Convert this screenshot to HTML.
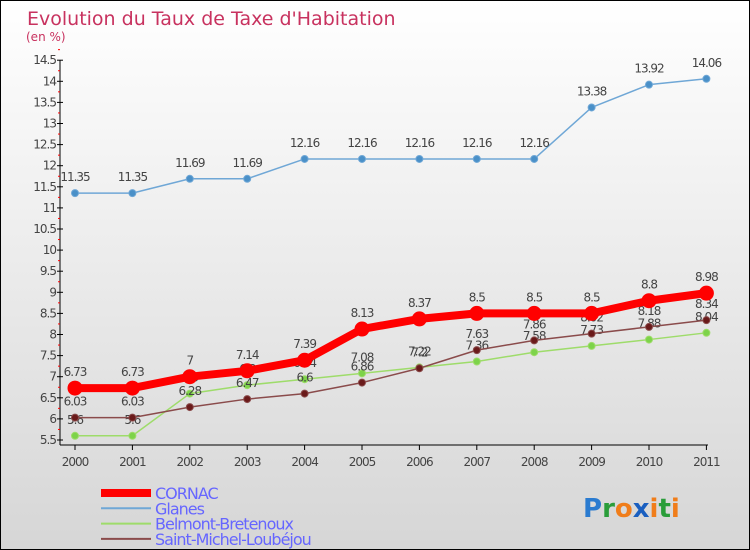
<!DOCTYPE html>
<html><head><meta charset="utf-8"><style>
body{margin:0}
#wrap{width:748px;height:548px;border:1px solid #000;background:linear-gradient(#fff,#d6d6d6);position:relative;overflow:hidden;font-family:"DejaVu Sans","Liberation Sans",sans-serif}
</style></head><body>
<div id="wrap">
<svg id="svg" width="748" height="548"></svg>
</div>
<script>
const years=["2000","2001","2002","2003","2004","2005","2006","2007","2008","2009","2010","2011"];
const cornac=[6.73,6.73,7,7.14,7.39,8.13,8.37,8.5,8.5,8.5,8.8,8.98];
const glanes=[11.35,11.35,11.69,11.69,12.16,12.16,12.16,12.16,12.16,13.38,13.92,14.06];
const belmont=[5.6,5.6,6.6,6.8,6.94,7.08,7.22,7.36,7.58,7.73,7.88,8.04];
const stmichel=[6.03,6.03,6.28,6.47,6.6,6.86,7.2,7.63,7.86,8.02,8.18,8.34];
const yTicks=[5.5,6,6.5,7,7.5,8,8.5,9,9.5,10,10.5,11,11.5,12,12.5,13,13.5,14,14.5];
const NS="http://www.w3.org/2000/svg";
const svg=document.getElementById('svg');
const X=i=>74+i*57.4, Y=v=>439-(v-5.5)*42.2;
function mk(t,a,p){const e=document.createElementNS(NS,t);for(const k in a)e.setAttribute(k,a[k]);(p||svg).appendChild(e);return e;}
let t=mk('text',{x:26,y:24,fill:'#c8325f','font-size':19});t.textContent="Evolution du Taux de Taxe d'Habitation";

t=mk('text',{x:25,y:40,fill:'#c8325f','font-size':12});t.textContent="(en %)";

let ax=mk('line',{x1:59,y1:59,x2:59,y2:444,stroke:'#000'});
ax=mk('line',{x1:59,y1:444,x2:707,y2:444,stroke:'#000'});
yTicks.forEach(v=>{mk('line',{x1:56,y1:Y(v),x2:62,y2:Y(v),stroke:'#000'});
 mk('line',{x1:57,y1:Y(v+0.25),x2:59,y2:Y(v+0.25),stroke:'red'});
 const l=mk('text',{x:55,y:Y(v)+4,'text-anchor':'end','font-size':12,fill:'#444','letter-spacing':'-1'});l.textContent=v;
 });
years.forEach((y,i)=>{mk('line',{x1:X(i),y1:444,x2:X(i),y2:449,stroke:'#000'});
 const l=mk('text',{x:X(i),y:465,'text-anchor':'middle','font-size':12,fill:'#444','letter-spacing':'-1'});l.textContent=y;
 });
function series(d,col,w,r,dot,name){const g=mk('g',{});
 mk('polyline',{points:d.map((v,i)=>X(i)+','+Y(v)).join(' '),fill:'none',stroke:col,'stroke-width':w,'stroke-linejoin':'round'},g);
 d.forEach((v,i)=>{mk('circle',{cx:X(i),cy:Y(v),r:r,fill:dot,stroke:col,'stroke-width':1},g);
  const l=mk('text',{x:X(i),y:Y(v)-12,'text-anchor':'middle','font-size':12,fill:'#444','letter-spacing':'-1'},g);l.textContent=v;});}
series(glanes,'#6fa7d6',1.5,3.5,'#4a90c8','series-glanes');
series(belmont,'#9edc6a',1.5,3.5,'#7dd34a','series-belmont');
series(stmichel,'#8a4b4b',1.5,3.5,'#6a1a1a','series-saint-michel');
series(cornac,'#f00',8,7,'#f00','series-cornac');
const leg=[['CORNAC','#f00',8],['Glanes','#6fa7d6',2],['Belmont-Bretenoux','#9edc6a',2],['Saint-Michel-Loubéjou','#8a4b4b',2]];
leg.forEach((e,i)=>{const g=mk('g',{});
 const y=492+i*15.3;mk('line',{x1:100,y1:y,x2:150,y2:y,stroke:e[1],'stroke-width':e[2]},g);
 const l=mk('text',{x:154,y:y+6,'font-size':16,fill:'#6666ff','letter-spacing':'-1'},g);l.textContent=e[0];});
const lg=mk('text',{x:582,y:516,'font-size':26,'font-weight':'bold'});
[['P','#2a7bd0'],['r','#2a9d3a'],['o','#f07d1a'],['x','#1a5fc0'],['i','#f07d1a'],['t','#2a9d3a'],['i','#f07d1a']].forEach(c=>{const s=mk('tspan',{fill:c[1]},lg);s.textContent=c[0];});
</script>
</body></html>
